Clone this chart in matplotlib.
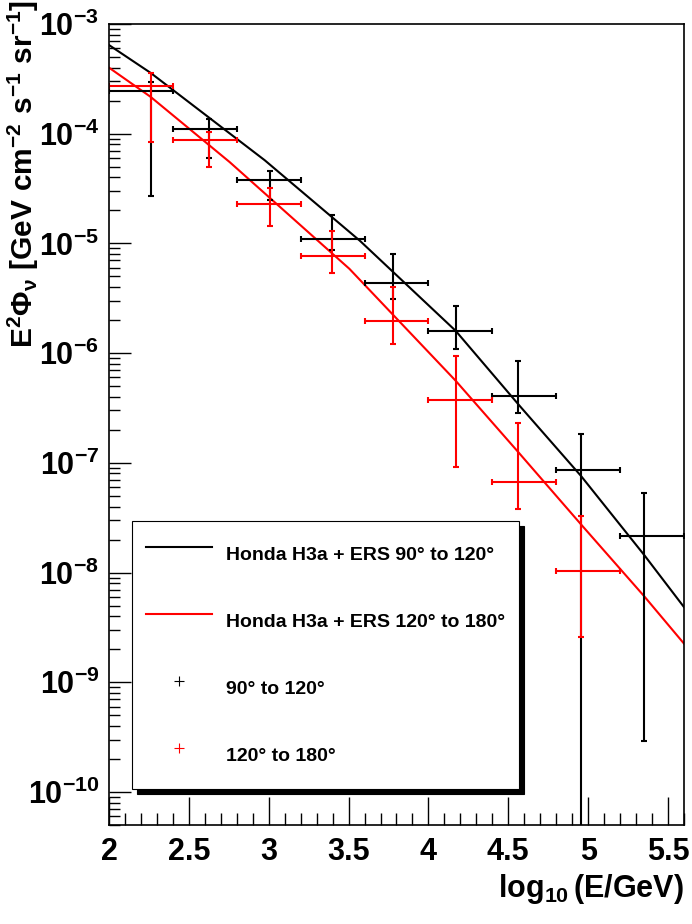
import numpy as np
import matplotlib
matplotlib.use('Agg')
import matplotlib.pyplot as plt
from matplotlib.lines import Line2D
from matplotlib.ticker import MultipleLocator, LogLocator, NullFormatter, FuncFormatter

# ROOT-like bold Helvetica look
plt.rcParams['font.family'] = ['Liberation Sans', 'DejaVu Sans']
plt.rcParams['font.weight'] = 'bold'
plt.rcParams['mathtext.fontset'] = 'custom'
plt.rcParams['mathtext.rm'] = 'Liberation Sans:bold'
plt.rcParams['mathtext.it'] = 'Liberation Sans:bold'
plt.rcParams['mathtext.bf'] = 'Liberation Sans:bold'
plt.rcParams['mathtext.default'] = 'rm'

# --- data (log10 E bins, E^2 flux) ---
bin_lo = [2.0, 2.4, 2.8, 3.2, 3.6, 4.0, 4.4, 4.8, 5.2]
bin_hi = [2.4, 2.8, 3.2, 3.6, 4.0, 4.4, 4.8, 5.2, 5.6]

# 90 to 120 deg
black_x = [2.26, 2.625, 3.01, 3.395, 3.78, 4.17, 4.56, 4.955, 5.35]
black_y = [2.44e-4, 1.11e-4, 3.76e-5, 1.10e-5, 4.38e-6, 1.60e-6, 4.09e-7, 8.57e-8, 2.17e-8]
black_up = [2.97e-4, 1.35e-4, 4.57e-5, 1.83e-5, 7.94e-6, 2.67e-6, 8.41e-7, 1.83e-7, 5.29e-8]
black_lo = [2.69e-5, 6.0e-5, 2.51e-5, 8.7e-6, 3.13e-6, 1.09e-6, 2.85e-7, 1e-13, 2.94e-10]

# 120 to 180 deg
red_x = [2.26, 2.625, 3.01, 3.395, 3.78, 4.17, 4.56, 4.955]
red_y = [2.74e-4, 8.73e-5, 2.27e-5, 7.66e-6, 1.97e-6, 3.71e-7, 6.75e-8, 1.04e-8]
red_up = [3.59e-4, 1.03e-4, 3.23e-5, 1.29e-5, 3.99e-6, 9.42e-7, 2.33e-7, 3.28e-8]
red_lo = [8.4e-5, 5.0e-5, 1.44e-5, 5.36e-6, 1.20e-6, 9.18e-8, 3.78e-8, 2.58e-9]

# Honda H3a + ERS model curves
black_curve_x = [2.0, 2.26, 2.975, 3.57, 3.78, 4.17, 4.57, 4.955, 5.35, 5.6]
black_curve_y = [6.43e-4, 3.59e-4, 5.73e-5, 1.06e-5, 5.47e-6, 1.60e-6, 3.32e-7, 7.60e-8, 1.45e-8, 4.84e-9]
red_curve_x = [2.0, 2.26, 2.755, 3.505, 4.17, 4.565, 4.955, 5.35, 5.6]
red_curve_y = [4.0e-4, 2.17e-4, 5.52e-5, 5.87e-6, 5.61e-7, 1.24e-7, 2.75e-8, 6.10e-9, 2.25e-9]

labels = ['Honda H3a + ERS 90° to 120°', 'Honda H3a + ERS 120° to 180°',
          '90° to 120°', '120° to 180°']

fig = plt.figure(figsize=(6.92, 9.24), dpi=100)
ax = fig.add_axes([109/692, 99/924, 575/692, 801/924])

ax.plot(black_curve_x, black_curve_y, color='black', lw=1.5)
ax.plot(red_curve_x, red_curve_y, color='red', lw=1.5)


def draw_points(x, y, up, lo, color):
    n = len(x)
    xerr = [np.array(x) - np.array(bin_lo[:n]), np.array(bin_hi[:n]) - np.array(x)]
    yerr = [np.array(y) - np.array(lo), np.array(up) - np.array(y)]
    ax.errorbar(x, y, xerr=xerr, yerr=yerr, fmt='none', ecolor=color,
                elinewidth=1.5, capsize=2.2, capthick=1.5)


draw_points(black_x, black_y, black_up, black_lo, 'black')
draw_points(red_x, red_y, red_up, red_lo, 'red')

ax.set_yscale('log')
ax.set_xlim(2.0, 5.6)
ax.set_ylim(5e-11, 1e-3)

ax.xaxis.set_major_locator(MultipleLocator(0.5))
ax.xaxis.set_minor_locator(MultipleLocator(0.1))
ax.xaxis.set_major_formatter(FuncFormatter(lambda v, p: f'{v:g}'))
ax.yaxis.set_major_locator(LogLocator(base=10, numticks=20))
ax.yaxis.set_minor_locator(LogLocator(base=10, subs=np.arange(2, 10), numticks=20))
ax.yaxis.set_minor_formatter(NullFormatter())

ax.tick_params(which='both', direction='in', top=False, right=False, labelsize=22)
ax.tick_params(axis='y', which='major', length=16, width=1, pad=7)
ax.tick_params(axis='y', which='minor', length=8, width=1)
ax.tick_params(axis='x', which='major', length=20, width=1, pad=9)
ax.tick_params(axis='x', which='minor', length=9, width=1)
for s in ax.spines.values():
    s.set_linewidth(1.2)

ax.set_xlabel(r'$\log_{10}(E/GeV)$', fontsize=22, loc='right', labelpad=3)
ax.set_ylabel(r'$E^{2}\Phi_{\nu}\ [GeV\ cm^{-2}\ s^{-1}\ sr^{-1}]$', fontsize=21.5,
              loc='top')
ax.yaxis.set_label_coords(-0.118, 1.03)

handles = [Line2D([], [], color='black', lw=1.5),
           Line2D([], [], color='red', lw=1.5),
           Line2D([], [], color='black', marker='+', ls='none', markersize=7, mew=0.8),
           Line2D([], [], color='red', marker='+', ls='none', markersize=7, mew=0.8)]
leg = ax.legend(handles, labels, loc='upper left', bbox_to_anchor=(0.04, 0.3795),
                borderaxespad=0, fontsize=14, frameon=True, fancybox=False,
                edgecolor='black', handlelength=3.4, handletextpad=0.75,
                borderpad=0.7, labelspacing=1.4, handleheight=2.77,
                shadow={'color': 'black', 'alpha': 1, 'ox': 3.5, 'oy': -3.5})
leg.get_frame().set_linewidth(0.8)

fig.savefig('out.png', dpi=100)
